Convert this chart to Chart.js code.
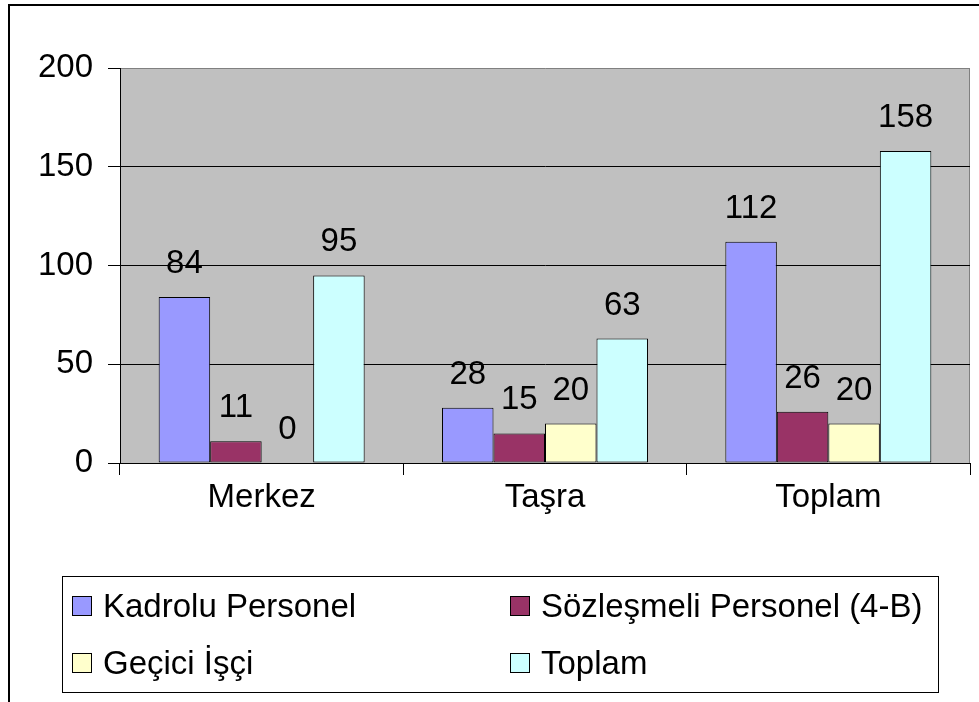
<!DOCTYPE html>
<html>
<head>
<meta charset="utf-8">
<script src="https://cdn.jsdelivr.net/npm/chart.js@4.4.1/dist/chart.umd.min.js"></script>
<style>
html,body{margin:0;padding:0;background:#fff;}
#wrap{position:relative;width:979px;height:702px;}
</style>
</head>
<body>
<div id="wrap"><canvas id="c" width="979" height="702"></canvas></div>
<script>
const categories = ['Merkez', 'Taşra', 'Toplam'];
const seriesNames = ['Kadrolu Personel', 'Sözleşmeli Personel (4-B)', 'Geçici İşçi', 'Toplam'];
const kadrolu = [84, 28, 112];
const sozlesmeli = [11, 15, 26];
const gecici = [0, 20, 20];
const toplam = [95, 63, 158];
const yMin = 0, yMax = 200, yStep = 50;

const colors = ['#9999FF', '#993366', '#FFFFCC', '#CCFFFF'];
const FONT = '"Liberation Sans", Arial, sans-serif';
const FSIZE = 33;

const bgPlugin = {
  id: 'bg',
  beforeDraw(chart) {
    const {ctx, chartArea: a} = chart;
    ctx.save();
    ctx.fillStyle = '#fff';
    ctx.fillRect(0, 0, chart.width, chart.height);
    ctx.fillStyle = '#c0c0c0';
    ctx.fillRect(a.left, a.top, a.right - a.left, a.bottom - a.top);
    ctx.strokeStyle = '#808080';
    ctx.lineWidth = 1;
    ctx.beginPath();
    ctx.moveTo(a.right - 0.5, a.top);
    ctx.lineTo(a.right - 0.5, a.bottom);
    ctx.stroke();
    ctx.strokeStyle = '#000';
    ctx.lineWidth = 2;
    ctx.beginPath();
    ctx.moveTo(9, 702);
    ctx.lineTo(9, 5);
    ctx.lineTo(979, 5);
    ctx.stroke();
    ctx.restore();
  }
};

const labelPlugin = {
  id: 'vals',
  afterDatasetsDraw(chart) {
    const ctx = chart.ctx;
    ctx.save();
    ctx.font = FSIZE + 'px ' + FONT;
    ctx.fillStyle = '#000';
    ctx.textAlign = 'center';
    ctx.textBaseline = 'alphabetic';
    chart.data.datasets.forEach((ds, di) => {
      const meta = chart.getDatasetMeta(di);
      meta.data.forEach((el, i) => {
        ctx.fillText(String(ds.data[i]), el.x, el.y - 24);
      });
    });
    ctx.restore();
  }
};

const legendPlugin = {
  id: 'boxLegend',
  afterDraw(chart) {
    const ctx = chart.ctx;
    ctx.save();
    ctx.strokeStyle = '#000';
    ctx.lineWidth = 1;
    ctx.strokeRect(62.5, 576.5, 876, 116);
    const pos = [[72, 596], [510, 596], [72, 653], [510, 653]];
    ctx.font = FSIZE + 'px ' + FONT;
    ctx.textBaseline = 'alphabetic';
    ctx.textAlign = 'left';
    chart.data.datasets.forEach((ds, i) => {
      const [x, y] = pos[i];
      ctx.fillStyle = ds.backgroundColor;
      ctx.fillRect(x, y, 20, 20);
      ctx.strokeStyle = '#000';
      ctx.strokeRect(x + 0.5, y + 0.5, 19, 19);
      ctx.fillStyle = '#000';
      ctx.fillText(ds.label, x + 31, y + 21);
    });
    ctx.restore();
  }
};

const seriesData = [kadrolu, sozlesmeli, gecici, toplam];

new Chart(document.getElementById('c'), {
  type: 'bar',
  data: {
    labels: categories,
    datasets: seriesNames.map((n, i) => ({
      label: n,
      data: seriesData[i],
      backgroundColor: colors[i],
      borderColor: '#000',
      borderWidth: 1,
      borderSkipped: false,
      categoryPercentage: 0.727,
      barPercentage: 1.0
    }))
  },
  options: {
    responsive: false,
    animation: false,
    devicePixelRatio: 1,
    layout: {padding: {top: 68, right: 9, left: 0, bottom: 0}},
    plugins: {legend: {display: false}, tooltip: {enabled: false}},
    scales: {
      x: {
        afterFit(s) { s.height = 239; },
        grid: {offset: true, drawOnChartArea: false, color: '#000', tickLength: 12, lineWidth: 1},
        border: {color: '#000', width: 1},
        ticks: {color: '#000', font: {family: FONT, size: FSIZE}, padding: 3}
      },
      y: {
        min: yMin, max: yMax,
        afterFit(s) { s.width = 120; },
        grid: {
          color: ctx => (ctx.tick && ctx.tick.value === yMax) ? '#808080' : '#000',
          tickColor: '#000',
          tickLength: 12,
          lineWidth: 1
        },
        border: {color: '#000', width: 1},
        ticks: {stepSize: yStep, color: '#000', font: {family: FONT, size: FSIZE}, padding: 15}
      }
    }
  },
  plugins: [bgPlugin, labelPlugin, legendPlugin]
});
</script>
</body>
</html>
